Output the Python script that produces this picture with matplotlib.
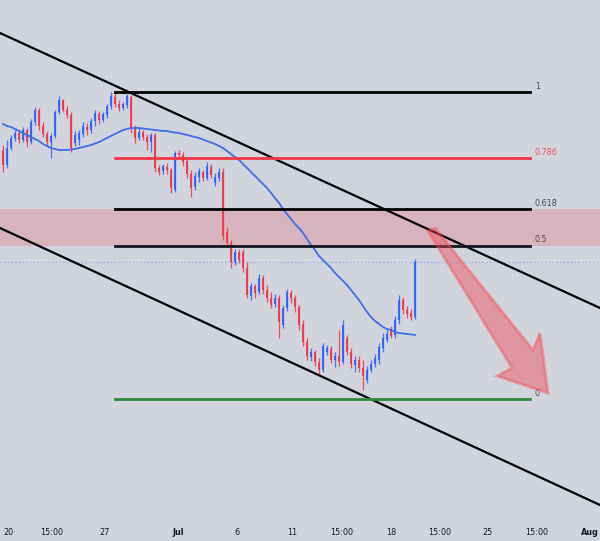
import matplotlib
matplotlib.use('Agg')
import matplotlib.pyplot as plt
from matplotlib.patches import Polygon
import numpy as np

# candle data (arbitrary price units)
opens = [450, 435, 452, 462, 467, 460, 470, 458, 478, 490, 474, 466, 458, 464, 488, 500, 490, 485,
         457, 460, 466, 473, 470, 479, 486, 480, 485, 494, 503, 496, 492, 495, 503, 472, 462, 468,
         463, 458, 465, 432, 429, 433, 430, 410, 447, 445, 439, 426, 413, 423, 428, 422, 433, 417,
         422, 428, 368, 357, 338, 348, 348, 332, 304, 314, 308, 322, 310, 302, 296, 302, 275, 292,
         307, 302, 293, 276, 258, 243, 248, 238, 230, 248, 251, 240, 244, 238, 262, 248, 235, 240,
         232, 220, 230, 236, 240, 252, 260, 270, 265, 280, 300, 290, 287, 283]
highs = [455, 460, 465, 470, 469, 473, 472, 481, 493, 492, 478, 469, 467, 490, 504, 501, 494, 488,
         469, 470, 478, 477, 482, 490, 489, 488, 496, 508, 508, 500, 498, 506, 505, 475, 472, 470,
         466, 467, 467, 435, 436, 437, 432, 449, 450, 448, 442, 430, 428, 432, 430, 438, 436, 427,
         432, 432, 373, 360, 351, 351, 351, 338, 317, 316, 326, 325, 315, 308, 306, 305, 295, 311,
         310, 305, 295, 280, 262, 252, 250, 242, 257, 255, 254, 248, 270, 280, 265, 252, 244, 244,
         240, 234, 240, 246, 257, 267, 270, 274, 284, 305, 303, 294, 291, 341]
lows = [428, 432, 450, 459, 457, 458, 453, 456, 475, 470, 463, 454, 442, 462, 486, 488, 482, 448,
        454, 455, 463, 465, 467, 474, 476, 478, 482, 491, 493, 489, 490, 492, 467, 457, 460, 460,
        450, 448, 428, 425, 426, 426, 407, 408, 442, 434, 422, 403, 410, 418, 419, 420, 422, 414,
        419, 360, 354, 332, 335, 337, 328, 302, 300, 302, 306, 306, 298, 292, 293, 262, 272, 289,
        297, 288, 270, 254, 240, 239, 234, 226, 228, 245, 237, 233, 234, 236, 245, 232, 228, 228,
        210, 217, 228, 233, 236, 248, 258, 262, 262, 276, 286, 282, 280, 281]
closes = [435, 452, 462, 467, 460, 470, 458, 478, 490, 474, 466, 458, 464, 488, 500, 490, 485, 452,
          465, 467, 474, 470, 479, 487, 480, 486, 494, 504, 496, 492, 496, 504, 472, 462, 468, 463,
          458, 465, 432, 428, 434, 430, 412, 447, 445, 438, 426, 412, 424, 429, 422, 434, 425, 423,
          428, 364, 357, 338, 348, 340, 332, 305, 314, 307, 322, 310, 302, 295, 302, 278, 292, 308,
          302, 293, 275, 258, 244, 248, 238, 230, 254, 252, 240, 244, 238, 275, 248, 236, 240, 232,
          224, 230, 236, 242, 253, 262, 266, 264, 280, 300, 290, 286, 283, 338]
ma = [476, 474, 473, 471, 469, 467, 465, 463, 461, 459, 456, 454, 452, 451, 450, 450, 450, 450.5,
      451, 452, 453, 454, 455, 456.5, 458, 460, 462, 464, 466, 468, 470, 471, 472, 472, 472, 471.5,
      471, 470.5, 470, 469.5, 469, 469, 468, 467.5, 467, 466, 465, 464, 463, 462, 460.5, 459, 457.5,
      456, 454, 452, 449, 446, 443, 440, 436, 432, 428, 424, 420, 416, 412, 407, 402, 397, 391, 386,
      381, 376, 372, 367, 361, 355, 350, 344, 340, 336, 332, 327, 323, 319, 315, 310, 305, 300, 294,
      288, 283, 279, 276, 273, 271, 270, 268, 267, 266.5, 266, 265.5, 265]

# drawings
fib_high, fib_low = 508, 201
fib_ratios = [1, 0.786, 0.618, 0.5, 0]
fib_labels = ['1', '0.786', '0.618', '0.5', '0']
fib_colors = ['#000000', '#f23645', '#000000', '#131722', '#2e8b3a']
fib_x = [28, 131.75]
upper_chan = ([-0.75, 149.25], [567, 292])
lower_chan = ([-0.75, 149.25], [372, 95])
arrow_x = [108, 132.5, 134.25, 136.25, 123.5, 127.25, 106.25]
arrow_y = [372, 250, 267, 207, 224, 232, 369]

tick_pos = [1.25, 12.25, 25.5, 43.75, 58.5, 72.25, 84.75, 97, 109.25, 121.25, 133.5, 146.75]
tick_lab = ['20', '15:00', '27', 'Jul', '6', '11', '15:00', '18', '15:00', '25', '15:00', 'Aug']
bold_lab = ['Jul', 'Aug']

bg = '#d1d4dc'
up_c = '#2962ff'
dn_c = '#f23645'

fig = plt.figure(figsize=(6, 5.41), dpi=100, facecolor=bg)
ax = fig.add_axes([0, 21 / 541, 1, 520 / 541])
ax.set_facecolor(bg)

o = np.array(opens)
h = np.array(highs)
l = np.array(lows)
c = np.array(closes)
x = np.arange(len(o))
cols = np.where(c >= o, up_c, dn_c)

# pink zone between 0.618 and 0.5
lev = lambda r: fib_low + r * (fib_high - fib_low)
ax.axhspan(lev(0.5), lev(0.618), color=dn_c, alpha=0.2, lw=0, zorder=1)

# current price line
ax.axhline(c[-1], color=up_c, alpha=0.3, ls=':', lw=1, zorder=1)

# candles
ax.vlines(x, l, h, colors=cols, lw=0.9, alpha=0.85, zorder=3)
ax.bar(x, np.abs(c - o), bottom=np.minimum(o, c), width=0.72, color=cols, lw=0, alpha=0.9, zorder=3)

# moving average
ax.plot(x, ma, color='#3d6ee8', lw=1.3, zorder=4)

# channel
ax.plot(*upper_chan, color='black', lw=1.6, zorder=5)
ax.plot(*lower_chan, color='black', lw=1.6, zorder=5)

# fib levels
for r, lab, col in zip(fib_ratios, fib_labels, fib_colors):
    ax.plot(fib_x, [lev(r), lev(r)], color=col, lw=2, zorder=5)
    tcol = '#f0505c' if col == '#f23645' else '#4a4a4a'
    ax.text(fib_x[1] + 1.2, lev(r) + 1, lab, color=tcol, fontsize=6.5, va='bottom', ha='left',
            fontstretch='condensed')

# arrow
ax.add_patch(Polygon(list(zip(arrow_x, arrow_y)), closed=True, facecolor=(0.95, 0.25, 0.3, 0.42),
                     edgecolor=(0.97, 0.3, 0.35, 0.45), lw=2, joinstyle='miter', zorder=6))

ax.set_xlim(-0.75, 149.25)
ax.set_ylim(80, 600)
for s in ax.spines.values():
    s.set_visible(False)
ax.set_yticks([])
ax.set_xticks(tick_pos)
ax.set_xticklabels(tick_lab, fontsize=6.5, color='#131722', fontstretch='condensed')
for t in ax.get_xticklabels():
    if t.get_text() in bold_lab:
        t.set_fontweight('bold')
ax.tick_params(axis='x', length=0, pad=6)

plt.savefig('out.png', dpi=100, facecolor=bg)
